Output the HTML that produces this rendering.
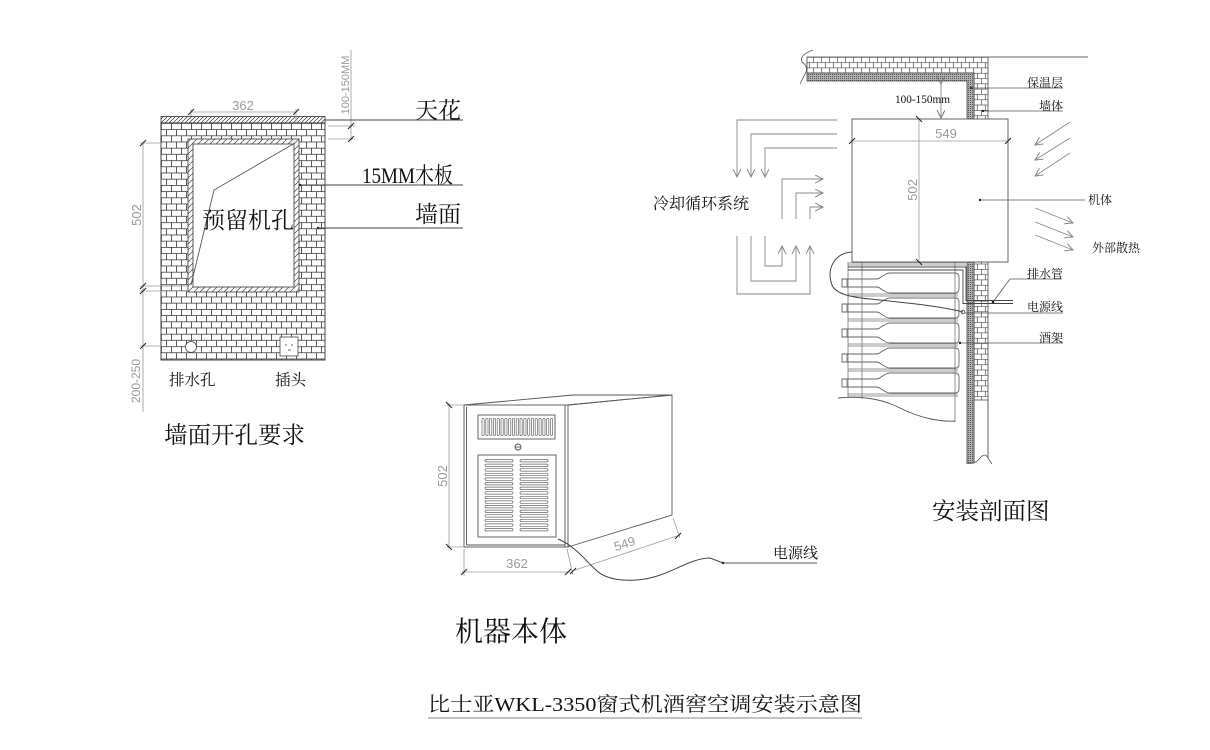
<!DOCTYPE html>
<html><head><meta charset="utf-8"><style>
html,body{margin:0;padding:0;background:#fff;}
svg{display:block;}
.s{font-family:"Liberation Serif","Noto Serif CJK SC",serif;fill:#111;}
.d{font-family:"Liberation Sans","DejaVu Sans",sans-serif;fill:#9a9a9a;}
</style></head><body>
<svg width="1210" height="750" viewBox="0 0 1210 750" xmlns="http://www.w3.org/2000/svg">
<defs>
<pattern id="brL" patternUnits="userSpaceOnUse" x="161" y="123" width="20" height="12.4">
<rect width="20" height="12.4" fill="#fff"/>
<path d="M0 0.4H20M0 6.6H20M0.4 0.4V6.6M10.4 0.4V6.6M5.4 6.6V12.4M15.4 6.6V12.4" stroke="#333" stroke-width="0.8" fill="none"/>
</pattern>
<pattern id="brR" patternUnits="userSpaceOnUse" x="805" y="57" width="16" height="10.6">
<rect width="16" height="10.6" fill="#fff"/>
<path d="M0 0.3H16M0 5.6H16M0.3 0.3V5.6M8.3 0.3V5.6M4.3 5.6V10.6M12.3 5.6V10.6" stroke="#444" stroke-width="0.7" fill="none"/>
</pattern>
<pattern id="hat" patternUnits="userSpaceOnUse" width="4" height="4">
<rect width="4" height="4" fill="#fff"/>
<path d="M-1 5L5 -1M-1 1L1 -1M3 5L5 3" stroke="#333" stroke-width="0.7"/>
</pattern>
<pattern id="hatW" patternUnits="userSpaceOnUse" width="6" height="6">
<rect width="6" height="6" fill="#fff"/>
<path d="M-1 7L7 -1M-1 1L1 -1M5 7L7 5" stroke="#444" stroke-width="0.7"/>
</pattern>
<pattern id="ins" patternUnits="userSpaceOnUse" width="2" height="2">
<rect width="2" height="2" fill="#b0b0b0"/>
<rect width="1" height="1" fill="#555"/>
</pattern>
<marker id="ah" markerWidth="10" markerHeight="10" refX="8" refY="4" orient="auto" markerUnits="userSpaceOnUse">
<path d="M0,0 L8,4 L0,8" fill="none" stroke="#888" stroke-width="1"/>
</marker>
<marker id="ahd" markerWidth="10" markerHeight="10" refX="8" refY="4" orient="auto" markerUnits="userSpaceOnUse">
<path d="M0,0 L8,4 L0,8" fill="none" stroke="#777" stroke-width="1"/>
</marker>
<g id="bottle">
<path d="M842 -4 L876 -4 Q879 -4 881 -6 L886 -9 Q888 -10 890 -10 L955 -10 Q959 -10 959 -6 L959 6 Q959 10 955 10 L890 10 Q888 10 886 9 L881 6 Q879 4 876 4 L842 4 Z" fill="none" stroke="#666" stroke-width="0.9"/>
<path d="M847 -4V4" stroke="#666" stroke-width="0.8"/>
<path d="M848 11H958M848 13H958" stroke="#777" stroke-width="0.8"/>
</g>
</defs>

<!-- ============ LEFT: wall opening ============ -->
<rect x="161" y="116.5" width="164" height="6.5" fill="url(#hat)" stroke="#333" stroke-width="0.8"/>
<rect x="161" y="123" width="164" height="237" fill="url(#brL)" stroke="#333" stroke-width="0.9"/>
<rect x="188" y="139" width="111" height="153" fill="url(#hatW)" stroke="#333" stroke-width="0.8"/>
<rect x="193" y="144" width="101" height="143" fill="#fff" stroke="#333" stroke-width="0.8"/>
<polyline points="295,143 214,190 191,285" fill="none" stroke="#555" stroke-width="0.9"/>
<circle cx="191" cy="347" r="5.5" fill="#fff" stroke="#444" stroke-width="0.8"/>
<rect x="280" y="337" width="18" height="19" fill="#fff" stroke="#444" stroke-width="0.8"/>
<path d="M286 344v2M292 344v2M288 350h3" stroke="#444" stroke-width="0.8"/>

<!-- left dims -->
<g stroke="#9a9a9a" stroke-width="0.8" fill="none">
<line x1="191" y1="112" x2="296" y2="112"/>
<line x1="191" y1="109" x2="191" y2="116"/>
<line x1="296" y1="109" x2="296" y2="122"/>
<line x1="351" y1="50" x2="351" y2="141"/>
<line x1="328" y1="126" x2="355" y2="126"/>
<line x1="328" y1="139" x2="355" y2="139"/>
<line x1="143" y1="143" x2="143" y2="412"/>
<line x1="140" y1="143" x2="161" y2="143"/>
<line x1="140" y1="286" x2="188" y2="286"/>
<line x1="140" y1="291" x2="188" y2="291"/>
<line x1="140" y1="346" x2="161" y2="346"/>
</g>
<g stroke="#222" stroke-width="1">
<line x1="188" y1="115" x2="194" y2="109"/>
<line x1="293" y1="115" x2="299" y2="109"/>
<line x1="348" y1="129" x2="354" y2="123"/>
<line x1="348" y1="142" x2="354" y2="136"/>
<line x1="140" y1="146" x2="146" y2="140"/>
<line x1="140" y1="289" x2="146" y2="283"/>
<line x1="140" y1="294" x2="146" y2="288"/>
<line x1="140" y1="349" x2="146" y2="343"/>
</g>
<text class="d" x="243" y="110" font-size="13" text-anchor="middle">362</text>
<text class="d" transform="translate(349,85) rotate(-90)" font-size="11" text-anchor="middle">100-150MM</text>
<text class="d" transform="translate(141,215) rotate(-90)" font-size="13" text-anchor="middle">502</text>
<text class="d" transform="translate(140,381) rotate(-90)" font-size="12" text-anchor="middle">200-250</text>

<!-- left leaders -->
<g stroke="#444" stroke-width="0.9">
<line x1="325" y1="120" x2="463" y2="120"/>
<line x1="300" y1="185" x2="463" y2="185"/>
<line x1="318" y1="228" x2="463" y2="228"/>
</g>
<circle cx="300" cy="185" r="1.2" fill="#222"/>
<circle cx="318" cy="228" r="1.2" fill="#222"/>

<text class="s" x="415" y="118" font-size="23">天花</text>
<text class="s" x="362" y="183" font-size="22" textLength="91" lengthAdjust="spacingAndGlyphs">15MM木板</text>
<text class="s" x="415" y="222" font-size="23">墙面</text>
<text class="s" x="202" y="228" font-size="23">预留机孔</text>
<text class="s" x="169" y="385" font-size="15.5">排水孔</text>
<text class="s" x="275" y="385" font-size="15.5">插头</text>
<text class="s" x="164" y="443" font-size="23.5">墙面开孔要求</text>

<!-- ============ MIDDLE: machine body ============ -->
<g stroke="#555" stroke-width="0.9" fill="none">
<polyline points="464,405 573,395 672,395 568,405"/>
<rect x="464" y="405" width="104" height="142" fill="#fff"/>
<line x1="565" y1="405" x2="565" y2="547"/>
<line x1="466.5" y1="407" x2="466.5" y2="545"/>
<line x1="466.5" y1="545" x2="565" y2="545"/>
<polyline points="568,405 672,395 672,515 568,547"/>
<rect x="478" y="415" width="77" height="24"/>
<rect x="478" y="455" width="78" height="82"/>
<circle cx="518" cy="447" r="3"/>
<line x1="515" y1="447" x2="521" y2="447"/>
</g>
<g fill="none" stroke="#666" stroke-width="0.7">
<rect x="482" y="418.5" width="2.2" height="17" rx="1"/>
<rect x="485.8" y="418.5" width="2.2" height="17" rx="1"/>
<rect x="489.6" y="418.5" width="2.2" height="17" rx="1"/>
<rect x="493.4" y="418.5" width="2.2" height="17" rx="1"/>
<rect x="497.2" y="418.5" width="2.2" height="17" rx="1"/>
<rect x="501" y="418.5" width="2.2" height="17" rx="1"/>
<rect x="504.8" y="418.5" width="2.2" height="17" rx="1"/>
<rect x="508.6" y="418.5" width="2.2" height="17" rx="1"/>
<rect x="512.4" y="418.5" width="2.2" height="17" rx="1"/>
<rect x="516.2" y="418.5" width="2.2" height="17" rx="1"/>
<rect x="520" y="418.5" width="2.2" height="17" rx="1"/>
<rect x="523.8" y="418.5" width="2.2" height="17" rx="1"/>
<rect x="527.6" y="418.5" width="2.2" height="17" rx="1"/>
<rect x="531.4" y="418.5" width="2.2" height="17" rx="1"/>
<rect x="535.2" y="418.5" width="2.2" height="17" rx="1"/>
<rect x="539" y="418.5" width="2.2" height="17" rx="1"/>
<rect x="542.8" y="418.5" width="2.2" height="17" rx="1"/>
<rect x="546.6" y="418.5" width="2.2" height="17" rx="1"/>
<rect x="550.4" y="418.5" width="2.2" height="17" rx="1"/>
</g>
<g fill="none" stroke="#666" stroke-width="0.7">
<rect x="485" y="459.5" width="28" height="2.4" rx="1.2"/><rect x="520" y="459.5" width="28" height="2.4" rx="1.2"/>
<rect x="485" y="464.1" width="28" height="2.4" rx="1.2"/><rect x="520" y="464.1" width="28" height="2.4" rx="1.2"/>
<rect x="485" y="468.7" width="28" height="2.4" rx="1.2"/><rect x="520" y="468.7" width="28" height="2.4" rx="1.2"/>
<rect x="485" y="473.3" width="28" height="2.4" rx="1.2"/><rect x="520" y="473.3" width="28" height="2.4" rx="1.2"/>
<rect x="485" y="477.9" width="28" height="2.4" rx="1.2"/><rect x="520" y="477.9" width="28" height="2.4" rx="1.2"/>
<rect x="485" y="482.5" width="28" height="2.4" rx="1.2"/><rect x="520" y="482.5" width="28" height="2.4" rx="1.2"/>
<rect x="485" y="487.1" width="28" height="2.4" rx="1.2"/><rect x="520" y="487.1" width="28" height="2.4" rx="1.2"/>
<rect x="485" y="491.7" width="28" height="2.4" rx="1.2"/><rect x="520" y="491.7" width="28" height="2.4" rx="1.2"/>
<rect x="485" y="496.3" width="28" height="2.4" rx="1.2"/><rect x="520" y="496.3" width="28" height="2.4" rx="1.2"/>
<rect x="485" y="500.9" width="28" height="2.4" rx="1.2"/><rect x="520" y="500.9" width="28" height="2.4" rx="1.2"/>
<rect x="485" y="505.5" width="28" height="2.4" rx="1.2"/><rect x="520" y="505.5" width="28" height="2.4" rx="1.2"/>
<rect x="485" y="510.1" width="28" height="2.4" rx="1.2"/><rect x="520" y="510.1" width="28" height="2.4" rx="1.2"/>
<rect x="485" y="514.7" width="28" height="2.4" rx="1.2"/><rect x="520" y="514.7" width="28" height="2.4" rx="1.2"/>
<rect x="485" y="519.3" width="28" height="2.4" rx="1.2"/><rect x="520" y="519.3" width="28" height="2.4" rx="1.2"/>
<rect x="485" y="523.9" width="28" height="2.4" rx="1.2"/><rect x="520" y="523.9" width="28" height="2.4" rx="1.2"/>
<rect x="485" y="528.5" width="28" height="2.4" rx="1.2"/><rect x="520" y="528.5" width="28" height="2.4" rx="1.2"/>
</g>
<!-- machine dims -->
<g stroke="#9a9a9a" stroke-width="0.8" fill="none">
<line x1="449" y1="403" x2="449" y2="549"/>
<line x1="447" y1="405" x2="464" y2="405"/>
<line x1="447" y1="547" x2="464" y2="547"/>
<line x1="462" y1="572" x2="570" y2="572"/>
<line x1="464" y1="549" x2="464" y2="576"/>
<line x1="567" y1="549" x2="573" y2="575"/>
<line x1="572" y1="571" x2="680" y2="535"/>
<line x1="673" y1="518" x2="680" y2="538"/>
</g>
<g stroke="#222" stroke-width="1">
<line x1="446" y1="402" x2="452" y2="408"/>
<line x1="446" y1="544" x2="452" y2="550"/>
<line x1="461" y1="575" x2="467" y2="569"/>
<line x1="565" y1="575" x2="571" y2="569"/>
<line x1="570" y1="574" x2="576" y2="568"/>
<line x1="675" y1="539" x2="681" y2="533"/>
</g>
<text class="d" transform="translate(447,476) rotate(-90)" font-size="13" text-anchor="middle">502</text>
<text class="d" x="517" y="568" font-size="13" text-anchor="middle">362</text>
<text class="d" transform="translate(626,548) rotate(-18.3)" font-size="13" text-anchor="middle">549</text>
<path d="M558 539 C575 546,585 560,595 569 C605 580,625 582,645 579 C670 575,690 558,710 558 L723 563" fill="none" stroke="#444" stroke-width="1"/>
<line x1="723" y1="563" x2="817" y2="563" stroke="#555" stroke-width="0.9"/>
<circle cx="723" cy="563" r="1.2" fill="#222"/>
<text class="s" x="773" y="558" font-size="15">电源线</text>
<text class="s" x="455" y="641" font-size="28">机器本体</text>

<!-- ============ RIGHT: section ============ -->
<!-- ceiling + wall -->
<polygon points="807,57 988,57 988,400 974,400 974,73 807,73" fill="url(#brR)" stroke="#444" stroke-width="0.8"/>
<polygon points="807,73 974,73 974,463 967,463 967,81 807,81" fill="url(#ins)" stroke="#444" stroke-width="0.8"/>
<line x1="988" y1="57" x2="1088" y2="57" stroke="#666" stroke-width="0.9"/>
<line x1="988" y1="400" x2="988" y2="458" stroke="#555" stroke-width="0.9"/>
<line x1="974" y1="400" x2="974" y2="463" stroke="#555" stroke-width="0.9"/>
<path d="M966 463 Q975 465 980 458 Q985 452 988 458 L992 464" fill="none" stroke="#555" stroke-width="0.8"/>
<path d="M813 50 Q799 55 802 62 Q808 66 806 72 L800 84" fill="none" stroke="#555" stroke-width="0.8"/>

<!-- wine rack -->
<g stroke="#777" stroke-width="0.8" fill="none">
<line x1="848" y1="262" x2="848" y2="398"/>
<line x1="862" y1="262" x2="862" y2="399"/>
<line x1="955" y1="262" x2="955" y2="422"/>
<line x1="848" y1="263" x2="966" y2="263"/>
<line x1="848" y1="265" x2="966" y2="265"/>
</g>
<use href="#bottle" transform="translate(0,283)"/>
<use href="#bottle" transform="translate(0,308)"/>
<use href="#bottle" transform="translate(0,333)"/>
<use href="#bottle" transform="translate(0,358)"/>
<use href="#bottle" transform="translate(0,383)"/>
<path d="M838 398 C860 396,880 398,900 408 C920 418,940 422,955 421" fill="none" stroke="#555" stroke-width="0.9"/>
<!-- drain pipe -->
<path d="M848 267 H966 V300.5 H1013" fill="none" stroke="#444" stroke-width="0.9"/>
<path d="M848 270 H963 V303.5 H1013" fill="none" stroke="#444" stroke-width="0.9"/>

<!-- machine box -->
<rect x="852" y="119" width="156" height="143" fill="#fff" stroke="#555" stroke-width="0.9"/>
<g stroke="#9a9a9a" stroke-width="0.8">
<line x1="852" y1="141" x2="1008" y2="141"/>
<line x1="919" y1="119" x2="919" y2="262"/>
</g>
<g stroke="#222" stroke-width="1">
<line x1="849" y1="144" x2="855" y2="138"/>
<line x1="1005" y1="144" x2="1011" y2="138"/>
<line x1="916" y1="116" x2="922" y2="122"/>
<line x1="916" y1="259" x2="922" y2="265"/>
</g>
<text class="d" x="946" y="138" font-size="13" text-anchor="middle">549</text>
<text class="d" transform="translate(917,190) rotate(-90)" font-size="13" text-anchor="middle">502</text>
<!-- 100-150mm double arrow -->
<line x1="941" y1="84" x2="941" y2="118" stroke="#888" stroke-width="0.9" marker-start="url(#ahd)" marker-end="url(#ahd)"/>
<text class="s" x="895" y="103" font-size="12" textLength="55" lengthAdjust="spacingAndGlyphs">100-150mm</text>

<!-- power cable -->
<path d="M852 252 C835 253,826 268,832 285 C836 294,850 297,870 299 C900 302,940 306,963 312" fill="none" stroke="#444" stroke-width="1"/>
<circle cx="963" cy="312" r="1.8" fill="none" stroke="#444" stroke-width="0.8"/>

<!-- cold circulation -->
<g stroke="#888" stroke-width="0.9" fill="none">
<polyline points="837,120 737,120 737,177" marker-end="url(#ah)"/>
<polyline points="837,134 751,134 751,177" marker-end="url(#ah)"/>
<polyline points="837,148 765,148 765,177" marker-end="url(#ah)"/>
<polyline points="782,219 782,179 823,179" marker-end="url(#ah)"/>
<polyline points="796,219 796,193 823,193" marker-end="url(#ah)"/>
<polyline points="810,219 810,207 823,207" marker-end="url(#ah)"/>
<polyline points="737,236 737,294 810,294 810,246" marker-end="url(#ah)"/>
<polyline points="751,236 751,281 796,281 796,246" marker-end="url(#ah)"/>
<polyline points="765,236 765,266 782,266 782,246" marker-end="url(#ah)"/>
<line x1="1070" y1="122" x2="1035" y2="145" marker-end="url(#ah)"/>
<line x1="1070" y1="138" x2="1035" y2="160" marker-end="url(#ah)"/>
<line x1="1070" y1="153" x2="1035" y2="176" marker-end="url(#ah)"/>
<line x1="1035" y1="208" x2="1073" y2="223" marker-end="url(#ah)"/>
<line x1="1035" y1="222" x2="1073" y2="237" marker-end="url(#ah)"/>
<line x1="1035" y1="235" x2="1073" y2="250" marker-end="url(#ah)"/>
</g>
<text class="s" x="653" y="209" font-size="16">冷却循环系统</text>

<!-- right leaders -->
<g stroke="#555" stroke-width="0.8" fill="none">
<line x1="971" y1="88" x2="1063" y2="88"/>
<line x1="983" y1="111" x2="1063" y2="111"/>
<line x1="980" y1="200" x2="1085" y2="200"/>
<polyline points="993,302 1010,279 1062,279"/>
<line x1="965" y1="313" x2="1063" y2="313"/>
<line x1="960" y1="343" x2="1063" y2="343"/>
</g>
<g fill="#222">
<circle cx="971" cy="88" r="1.2"/>
<circle cx="983" cy="111" r="1.2"/>
<circle cx="980" cy="200" r="1.2"/>
<circle cx="993" cy="302" r="1.3"/>
<circle cx="960" cy="343" r="1.2"/>
</g>
<text class="s" x="1027" y="87" font-size="12">保温层</text>
<text class="s" x="1039" y="110" font-size="12">墙体</text>
<text class="s" x="1088" y="204" font-size="12">机体</text>
<text class="s" x="1092" y="252" font-size="12">外部散热</text>
<text class="s" x="1027" y="278" font-size="12">排水管</text>
<text class="s" x="1027" y="311" font-size="12">电源线</text>
<text class="s" x="1039" y="342" font-size="12">酒架</text>
<text class="s" x="932" y="519" font-size="23.5">安装剖面图</text>

<!-- title -->
<text class="s" x="428" y="711" font-size="20" textLength="434" lengthAdjust="spacingAndGlyphs">比士亚WKL-3350窗式机酒窖空调安装示意图</text>
<rect x="428" y="717" width="434" height="2" fill="#c4c4c4"/>
</svg>
</body></html>
